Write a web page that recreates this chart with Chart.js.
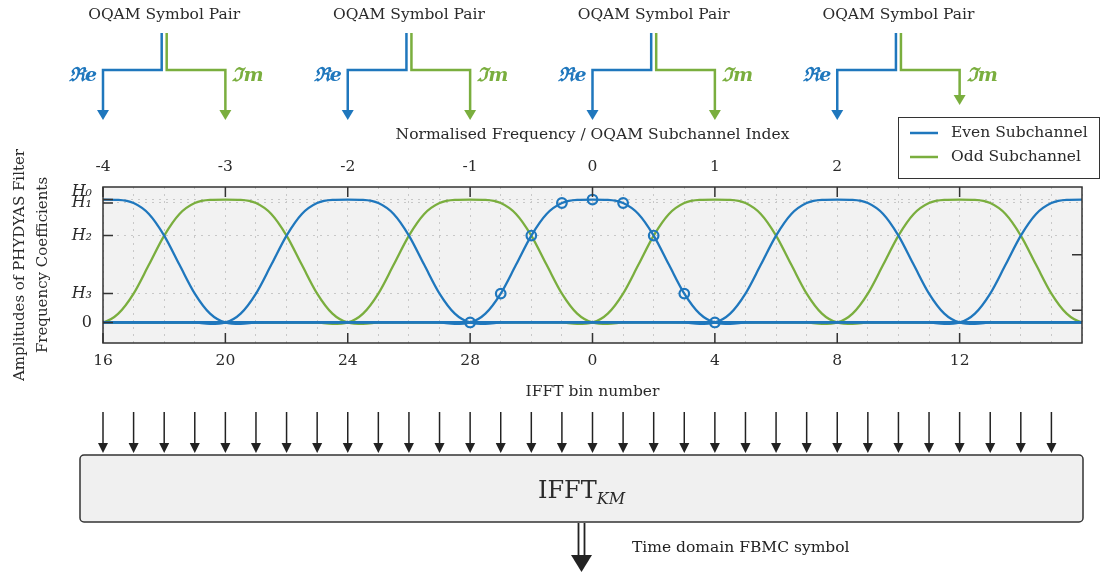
<!DOCTYPE html>
<html>
<head>
<meta charset="utf-8">
<title>PHYDYAS filter bank and IFFT</title>
<script src="https://cdn.jsdelivr.net/npm/chart.js@4.4.1/dist/chart.umd.min.js"></script>
<style>
  html, body { margin: 0; padding: 0; background: #fff; }
  #wrap { width: 1101px; height: 573px; }
</style>
</head>
<body>
<div id="wrap"><canvas id="fbmc" width="1101" height="573"></canvas></div>
<script>
// PHYDYAS prototype filter (K = 4), levels shown on the y axis
const coeffLabels = ['0', 'H₃', 'H₂', 'H₁', 'H₀'];
const coeffLevels = [0, 0.235, 0.707, 0.972, 1];

// subchannel response sampled every half bin around its centre,
// flat at zero out to a full band either side
const binOffsets = [-32, -5.5, -5, -4.5, -4, -3.5, -3, -2.5, -2, -1.5, -1, -0.5, 0,
                    0.5, 1, 1.5, 2, 2.5, 3, 3.5, 4, 4.5, 5, 5.5, 32];
const subchannelResponse = [0, 0.003, 0, -0.012, 0, 0.072, 0.235, 0.469, 0.707, 0.883, 0.972, 0.998, 1,
                            0.998, 0.972, 0.883, 0.707, 0.469, 0.235, 0.072, 0, -0.012, 0, 0.003, 0];

// subchannel centres in IFFT bins (0 = DC)
const evenCentres = [-16, -8, 0, 8, 16];
const oddCentres = [-12, -4, 4, 12];

// frequency coefficients of subchannel 0
const coeffBins = [-4, -3, -2, -1, 0, 1, 2, 3, 4];
const coeffValues = [0, 0.235, 0.707, 0.972, 1, 0.972, 0.707, 0.235, 0];

// OQAM pairs: real part -> even subchannel, imaginary part -> odd subchannel
const symbolPairs = [[-16, -12], [-8, -4], [0, 4], [8, 12]];

// labelled ticks
const labelledBins = [-16, -12, -8, -4, 0, 4, 8, 12];
const binLabels = ['16', '20', '24', '28', '0', '4', '8', '12'];
const subchannelLabels = ['-4', '-3', '-2', '-1', '0', '1', '2', '3'];
const rightTickLevels = [0.1, 0.55];

const BLUE = '#1f77bd';
const GREEN = '#7aae3e';
const INK = '#2a2a2a';
const FONT = 'DejaVu Serif';

Chart.defaults.font.family = FONT;
Chart.defaults.font.size = 15.5;
Chart.defaults.color = INK;

function subchannel(centre, label, colour) {
  return {
    type: 'line',
    label: label,
    data: binOffsets.map((o, i) => ({ x: centre + o, y: subchannelResponse[i] })),
    borderColor: colour,
    borderWidth: 2.3,
    pointRadius: 0,
    cubicInterpolationMode: 'monotone',
    fill: false
  };
}

const datasets = [
  {
    type: 'scatter',
    label: 'Coefficients',
    data: coeffBins.map((b, i) => ({ x: b, y: coeffValues[i] })),
    showLine: false,
    pointRadius: 4.8,
    pointBorderWidth: 2.2,
    pointBorderColor: BLUE,
    pointBackgroundColor: 'rgba(0,0,0,0)',
    order: -1
  },
  ...evenCentres.map(c => subchannel(c, 'Even Subchannel', BLUE)),
  ...oddCentres.map(c => subchannel(c, 'Odd Subchannel', GREEN))
];

const dotted = { color: '#c8c8c8', lineWidth: 1, drawTicks: false };

function arrowHead(ctx, x, tipY, w, h, colour) {
  ctx.fillStyle = colour;
  ctx.beginPath();
  ctx.moveTo(x - w / 2, tipY - h);
  ctx.lineTo(x + w / 2, tipY - h);
  ctx.lineTo(x, tipY);
  ctx.closePath();
  ctx.fill();
}

const legendBox = { left: 898, top: 117, width: 201, height: 61 };

const diagram = {
  id: 'diagram',
  beforeDraw(chart) {
    const { ctx, chartArea: a } = chart;
    ctx.save();
    ctx.fillStyle = '#fff';
    ctx.fillRect(0, 0, chart.width, chart.height);
    ctx.fillStyle = '#f2f2f2';
    ctx.fillRect(a.left, a.top, a.right - a.left, a.bottom - a.top);
    ctx.restore();
  },
  afterDatasetsDraw(chart) {
    const { ctx, chartArea: a, scales } = chart;
    ctx.save();
    ctx.strokeStyle = '#333';
    ctx.lineWidth = 1.5;
    ctx.strokeRect(a.left, a.top, a.right - a.left, a.bottom - a.top);
    // inward tick marks
    ctx.beginPath();
    labelledBins.forEach(b => {
      const px = scales.x.getPixelForValue(b);
      ctx.moveTo(px, a.bottom); ctx.lineTo(px, a.bottom - 10);
      ctx.moveTo(px, a.top); ctx.lineTo(px, a.top + 10);
    });
    coeffLevels.forEach(v => {
      const py = scales.y.getPixelForValue(v);
      ctx.moveTo(a.left, py); ctx.lineTo(a.left + 10, py);
    });
    rightTickLevels.forEach(v => {
      const py = scales.y.getPixelForValue(v);
      ctx.moveTo(a.right, py); ctx.lineTo(a.right - 10, py);
    });
    ctx.stroke();
    ctx.restore();
  },
  afterDraw(chart) {
    const { ctx } = chart;
    const x = chart.scales.x;
    ctx.save();

    // OQAM symbol pairs feeding the subchannels
    symbolPairs.forEach(([re, im]) => {
      const xr = x.getPixelForValue(re);
      const xi = x.getPixelForValue(im);
      const mid = (xr + xi) / 2;
      const tipRe = 120;
      const tipIm = xi > legendBox.left ? legendBox.top - 12 : 120;

      ctx.fillStyle = INK;
      ctx.font = `15.5px ${FONT}`;
      ctx.textAlign = 'center';
      ctx.textBaseline = 'middle';
      ctx.fillText('OQAM Symbol Pair', mid, 15);

      ctx.lineWidth = 2.5;
      ctx.lineJoin = 'miter';
      ctx.strokeStyle = BLUE;
      ctx.beginPath();
      ctx.moveTo(mid - 2.5, 33); ctx.lineTo(mid - 2.5, 70); ctx.lineTo(xr, 70); ctx.lineTo(xr, tipRe - 9);
      ctx.stroke();
      arrowHead(ctx, xr, tipRe, 12, 10, BLUE);

      ctx.strokeStyle = GREEN;
      ctx.beginPath();
      ctx.moveTo(mid + 2.5, 33); ctx.lineTo(mid + 2.5, 70); ctx.lineTo(xi, 70); ctx.lineTo(xi, tipIm - 9);
      ctx.stroke();
      arrowHead(ctx, xi, tipIm, 12, 10, GREEN);

      ctx.font = `bold italic 19px ${FONT}`;
      ctx.fillStyle = BLUE;
      ctx.textAlign = 'right';
      ctx.fillText('ℜe', xr - 6, 76);
      ctx.fillStyle = GREEN;
      ctx.textAlign = 'left';
      ctx.fillText('ℑm', xi + 7, 76);
    });

    // legend
    ctx.fillStyle = '#fff';
    ctx.fillRect(legendBox.left, legendBox.top, legendBox.width, legendBox.height);
    ctx.strokeStyle = '#333';
    ctx.lineWidth = 1;
    ctx.strokeRect(legendBox.left + 0.5, legendBox.top + 0.5, legendBox.width, legendBox.height);
    const seen = [];
    chart.data.datasets.forEach(d => {
      if (d.type === 'line' && !seen.some(s => s.label === d.label)) seen.push(d);
    });
    seen.forEach((d, i) => {
      const y = legendBox.top + 16 + i * 24;
      ctx.strokeStyle = d.borderColor;
      ctx.lineWidth = 2.5;
      ctx.beginPath();
      ctx.moveTo(legendBox.left + 12, y);
      ctx.lineTo(legendBox.left + 40, y);
      ctx.stroke();
      ctx.fillStyle = INK;
      ctx.font = `15.5px ${FONT}`;
      ctx.textAlign = 'left';
      ctx.textBaseline = 'middle';
      ctx.fillText(d.label, legendBox.left + 53, y);
    });

    // IFFT inputs, one per bin
    const block = { left: 80, top: 455, right: 1083, bottom: 522 };
    ctx.strokeStyle = '#222';
    ctx.lineWidth = 1.5;
    x.ticks.filter(t => t.value < x.max).forEach(t => {
      const px = x.getPixelForValue(t.value);
      ctx.beginPath();
      ctx.moveTo(px, 412); ctx.lineTo(px, 444);
      ctx.stroke();
      arrowHead(ctx, px, 453, 10, 10, '#222');
    });

    ctx.fillStyle = '#f0f0f0';
    ctx.beginPath();
    ctx.roundRect(block.left, block.top, block.right - block.left, block.bottom - block.top, 4);
    ctx.fill();
    ctx.strokeStyle = '#333';
    ctx.lineWidth = 1.5;
    ctx.stroke();

    const cx = (block.left + block.right) / 2;
    ctx.fillStyle = INK;
    ctx.textBaseline = 'alphabetic';
    ctx.font = `24px ${FONT}`;
    const wMain = ctx.measureText('IFFT').width;
    ctx.font = `italic 16px ${FONT}`;
    const wSub = ctx.measureText('KM').width;
    const x0 = cx - (wMain + wSub) / 2;
    ctx.font = `24px ${FONT}`;
    ctx.textAlign = 'left';
    ctx.fillText('IFFT', x0, 498);
    ctx.font = `italic 16px ${FONT}`;
    ctx.fillText('KM', x0 + wMain, 504);

    // output of the IFFT
    ctx.strokeStyle = '#222';
    ctx.lineWidth = 1.8;
    ctx.beginPath();
    ctx.moveTo(cx - 3, block.bottom + 1); ctx.lineTo(cx - 3, 557);
    ctx.moveTo(cx + 3, block.bottom + 1); ctx.lineTo(cx + 3, 557);
    ctx.stroke();
    arrowHead(ctx, cx, 572, 21, 17, '#222');
    ctx.font = `15.5px ${FONT}`;
    ctx.textBaseline = 'middle';
    ctx.fillText('Time domain FBMC symbol', 632, 548);

    ctx.restore();
  }
};

new Chart(document.getElementById('fbmc'), {
  type: 'line',
  data: { datasets: datasets },
  options: {
    responsive: false,
    animation: false,
    layout: { padding: { top: 126, bottom: 170, left: 0, right: 19 } },
    plugins: { legend: { display: false }, tooltip: { enabled: false } },
    scales: {
      x: {
        type: 'linear',
        position: 'bottom',
        min: -16,
        max: 16,
        grid: dotted,
        border: { display: false, dash: [2, 5] },
        ticks: {
          stepSize: 1,
          autoSkip: false,
          maxRotation: 0,
          padding: 9,
          callback: v => {
            const i = labelledBins.indexOf(v);
            return i < 0 ? '' : binLabels[i];
          }
        },
        title: { display: true, text: 'IFFT bin number', padding: { top: 0, bottom: 2 } },
        afterFit: s => { s.height = 60; }
      },
      x2: {
        type: 'linear',
        position: 'top',
        min: -16,
        max: 16,
        grid: { display: false, drawTicks: false },
        border: { display: false },
        afterBuildTicks: s => { s.ticks = labelledBins.map(v => ({ value: v })); },
        ticks: {
          autoSkip: false,
          maxRotation: 0,
          padding: 11,
          callback: v => subchannelLabels[labelledBins.indexOf(v)]
        },
        title: { display: true, text: 'Normalised Frequency / OQAM Subchannel Index', padding: 0 },
        afterFit: s => { s.height = 61; }
      },
      y: {
        type: 'linear',
        position: 'left',
        min: -0.167,
        max: 1.102,
        grid: dotted,
        border: { display: false, dash: [2, 5] },
        afterBuildTicks: s => { s.ticks = coeffLevels.map(v => ({ value: v })); },
        ticks: {
          autoSkip: false,
          padding: 11,
          font: c => ({
            family: FONT,
            size: 16,
            style: c.tick && c.tick.value !== 0 ? 'italic' : 'normal',
            lineHeight: 0.9
          }),
          // two-line label lifts H0 clear of H1
          callback: v => {
            const label = coeffLabels[coeffLevels.indexOf(v)];
            return v === 1 ? [label, ''] : label;
          }
        },
        title: {
          display: true,
          text: ['Amplitudes of PHYDYAS Filter', 'Frequency Coefficients'],
          font: { size: 15, lineHeight: 1.53 },
          padding: { top: 8.5, bottom: 0 }
        },
        afterFit: s => { s.width = 103; }
      }
    }
  },
  plugins: [diagram]
});
</script>
</body>
</html>
